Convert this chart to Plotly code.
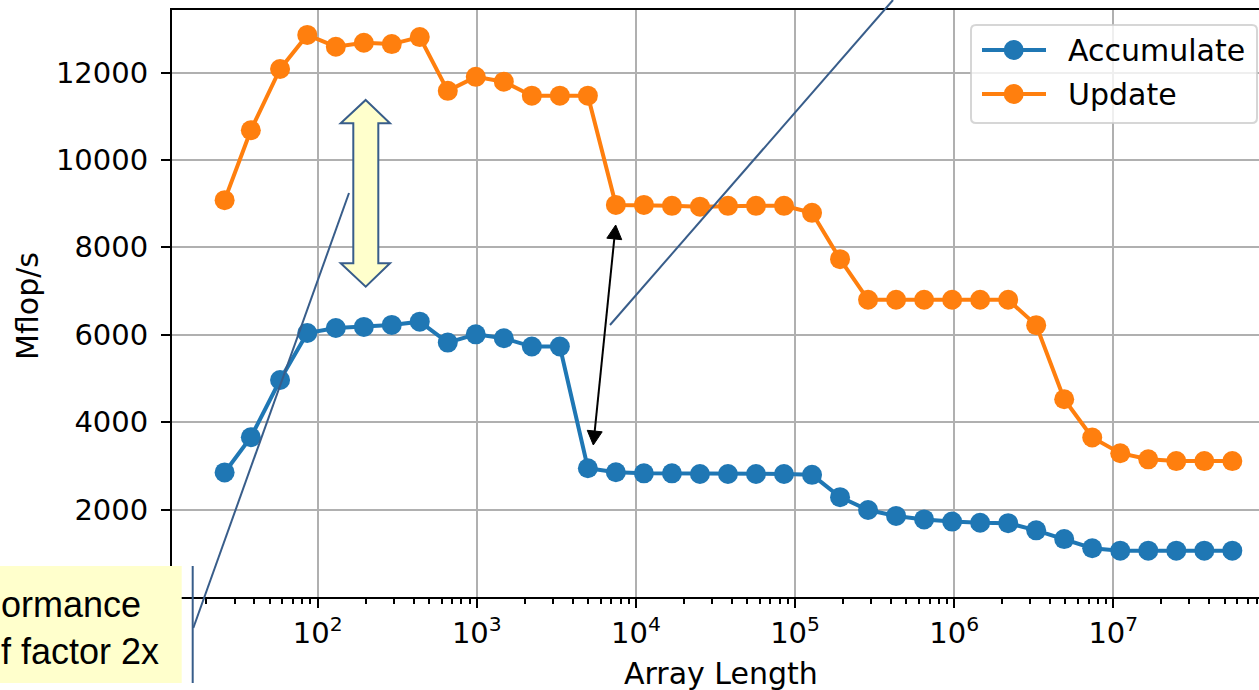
import math
import plotly.graph_objects as go

# ---------------- data ----------------
array_length = [26, 38, 58, 86, 130, 195, 292, 438, 657, 985, 1478, 2217, 3325,
                4988, 7482, 11223, 16834, 25251, 37877, 56815, 85223, 127834,
                191751, 287627, 431440, 647160, 970740, 1456110, 2184164,
                3276247, 4914370, 7371555, 11057332, 16585998, 24878997,
                37318496, 55977744]
accumulate = [2850, 3655, 4965, 6040, 6155, 6180, 6225, 6300, 5820, 6010, 5920,
              5730, 5730, 2945, 2855, 2830, 2830, 2815, 2815, 2815, 2815, 2795,
              2285, 1990, 1855, 1775, 1725, 1700, 1690, 1525, 1325, 1115, 1060,
              1060, 1060, 1060, 1060]
update = [9080, 10680, 12080, 12860, 12590, 12680, 12650, 12810, 11580, 11900,
          11790, 11470, 11470, 11470, 8970, 8970, 8950, 8930, 8950, 8950, 8950,
          8790, 7730, 6800, 6800, 6800, 6800, 6800, 6800, 6220, 4525, 3650, 3290,
          3150, 3110, 3110, 3110]
series_names = ["Accumulate", "Update"]
series_colors = ["#1f77b4", "#ff7f0e"]
x_tick_vals = [1e2, 1e3, 1e4, 1e5, 1e6, 1e7]
x_tick_text = ["10<sup>2</sup>", "10<sup>3</sup>", "10<sup>4</sup>",
               "10<sup>5</sup>", "10<sup>6</sup>", "10<sup>7</sup>"]
y_tick_vals = [2000, 4000, 6000, 8000, 10000, 12000]
y_tick_text = ["2000", "4000", "6000", "8000", "10000", "12000"]
box_lines = ["ormance", "f factor 2x"]

# ---------------- layout geometry ----------------
W, H = 1259, 690
L, R, T, B = 172, 1259, 10, 597   # plot area in pixels


def px(x):
    return (x - L) / (R - L)


def py(y):
    return (B - y) / (B - T)


FONT = "DejaVu Sans"
CALLOUT = "#385D8A"
TICK_SIZE = 29
LABEL_SIZE = 30

fig = go.Figure()
for name, vals, col in zip(series_names, [accumulate, update], series_colors):
    fig.add_trace(go.Scatter(
        x=array_length, y=vals, name=name, mode="lines+markers",
        line=dict(color=col, width=4),
        marker=dict(color=col, size=20),
        showlegend=False,
    ))

minor_vals = [m * 10 ** e for e in range(1, 8) for m in range(2, 10)]

fig.update_layout(
    width=W, height=H,
    margin=dict(l=L, r=W - R, t=T, b=H - B, pad=0),
    paper_bgcolor="white", plot_bgcolor="white",
    font=dict(family=FONT, size=TICK_SIZE, color="black"),
    xaxis=dict(
        type="log", range=[1.0843, 7.9157],
        tickmode="array", tickvals=x_tick_vals, ticktext=x_tick_text,
        ticks="outside", ticklen=9, tickwidth=2, tickcolor="black",
        showline=True, linecolor="black", linewidth=2, mirror=True,
        showgrid=True, gridcolor="#b0b0b0", gridwidth=2.2,
        zeroline=False, automargin=False,
        minor=dict(tickmode="array", tickvals=minor_vals, ticks="outside",
                   ticklen=5, tickwidth=1.5, tickcolor="black", showgrid=False),
        tickfont=dict(family=FONT, size=TICK_SIZE),
    ),
    yaxis=dict(
        range=[0, 13430],
        tickmode="array", tickvals=y_tick_vals, ticktext=y_tick_text,
        ticks="outside", ticklen=9, tickwidth=2, tickcolor="black",
        showline=True, linecolor="black", linewidth=2,
        showgrid=True, gridcolor="#b0b0b0", gridwidth=2.2,
        zeroline=False, automargin=False,
        tickfont=dict(family=FONT, size=TICK_SIZE),
        ticklabelstandoff=7,
    ),
)

shapes = []
annotations = []

# axis titles
annotations.append(dict(text="Array Length", xref="paper", yref="paper",
                        x=px(721), y=py(673), xanchor="center", yanchor="middle",
                        showarrow=False, font=dict(family=FONT, size=LABEL_SIZE)))
annotations.append(dict(text="Mflop/s", xref="paper", yref="paper",
                        x=px(28), y=py(306), xanchor="center", yanchor="middle",
                        textangle=-90, showarrow=False,
                        font=dict(family=FONT, size=LABEL_SIZE)))

# yellow fat double arrow
pts = [(365.7, 100), (390, 123.3), (378.3, 123.3), (378.3, 263.3), (390, 263.3),
       (365.7, 286.7), (340.7, 263.3), (353.3, 263.3), (353.3, 123.3),
       (340.7, 123.3)]
path = "M " + " L ".join(f"{px(a):.5f},{py(b):.5f}" for a, b in pts) + " Z"
shapes.append(dict(type="path", xref="paper", yref="paper", path=path,
                   fillcolor="#FFFFCC", line=dict(color=CALLOUT, width=2),
                   layer="above"))

# black double arrow
tx, ty = 615.7, 225.0
sx, sy = 593.3, 445.0
dx, dy = tx - sx, ty - sy
ln = math.hypot(dx, dy)
ux, uy = dx / ln, dy / ln
nx, ny = -uy, ux
hl, hw = 14.0, 7.5
tb = (tx - hl * ux, ty - hl * uy)
sb = (sx + hl * ux, sy + hl * uy)
shapes.append(dict(type="line", xref="paper", yref="paper",
                   x0=px(tb[0]), y0=py(tb[1]), x1=px(sb[0]), y1=py(sb[1]),
                   line=dict(color="black", width=2), layer="above"))
for (ax_, ay_), (bx_, by_) in [((tx, ty), tb), ((sx, sy), sb)]:
    tri = [(ax_, ay_), (bx_ + hw * nx, by_ + hw * ny), (bx_ - hw * nx, by_ - hw * ny)]
    p = "M " + " L ".join(f"{px(a):.5f},{py(b):.5f}" for a, b in tri) + " Z"
    shapes.append(dict(type="path", xref="paper", yref="paper", path=p,
                       fillcolor="black", line=dict(color="black", width=1),
                       layer="above"))

# callout lines
shapes.append(dict(type="line", xref="paper", yref="paper",
                   x0=px(193.3), y0=py(628), x1=px(349), y1=py(193),
                   line=dict(color=CALLOUT, width=2), layer="above"))
shapes.append(dict(type="line", xref="paper", yref="paper",
                   x0=px(610), y0=py(325), x1=px(893), y1=py(0),
                   line=dict(color=CALLOUT, width=2), layer="above"))

# yellow callout box (bottom-left)
shapes.append(dict(type="rect", xref="paper", yref="paper",
                   x0=px(-5), y0=py(566), x1=px(181.7), y1=py(683),
                   fillcolor="#FFFFCC", line=dict(width=0), layer="above"))
shapes.append(dict(type="line", xref="paper", yref="paper",
                   x0=px(192.7), y0=py(566), x1=px(192.7), y1=py(683),
                   line=dict(color=CALLOUT, width=2), layer="above"))
annotations.append(dict(text="<br>".join(box_lines), xref="paper", yref="paper",
                        x=px(-1), y=py(628), xanchor="left", yanchor="middle",
                        align="left", showarrow=False,
                        font=dict(family="Liberation Sans", size=36, color="black")))

# legend (drawn manually to match the reference geometry)
lx0, ly0, lx1, ly1 = 971, 25, 1257, 123
r = 5
lp = (f"M {px(lx0 + r)},{py(ly0)} L {px(lx1 - r)},{py(ly0)} "
      f"Q {px(lx1)},{py(ly0)} {px(lx1)},{py(ly0 + r)} "
      f"L {px(lx1)},{py(ly1 - r)} Q {px(lx1)},{py(ly1)} {px(lx1 - r)},{py(ly1)} "
      f"L {px(lx0 + r)},{py(ly1)} Q {px(lx0)},{py(ly1)} {px(lx0)},{py(ly1 - r)} "
      f"L {px(lx0)},{py(ly0 + r)} Q {px(lx0)},{py(ly0)} {px(lx0 + r)},{py(ly0)} Z")
shapes.append(dict(type="path", xref="paper", yref="paper", path=lp,
                   fillcolor="rgba(255,255,255,0.8)",
                   line=dict(color="rgba(204,204,204,0.8)", width=2), layer="above"))
for name, col, yy in zip(series_names, series_colors, [50, 94]):
    shapes.append(dict(type="line", xref="paper", yref="paper",
                       x0=px(982), y0=py(yy), x1=px(1046), y1=py(yy),
                       line=dict(color=col, width=4), layer="above"))
    shapes.append(dict(type="circle", xref="paper", yref="paper",
                       x0=px(1003.7), y0=py(yy - 10), x1=px(1023.7), y1=py(yy + 10),
                       fillcolor=col, line=dict(color=col, width=0), layer="above"))
    annotations.append(dict(text=name, xref="paper", yref="paper",
                            x=px(1066), y=py(yy), xanchor="left", yanchor="middle",
                            showarrow=False, font=dict(family=FONT, size=LABEL_SIZE)))

fig.update_layout(shapes=shapes, annotations=annotations)
fig.write_html(
    "out.html",
    config={"displayModeBar": False},
    post_script="document.body.style.margin='0';document.body.style.overflow='hidden';",
)
